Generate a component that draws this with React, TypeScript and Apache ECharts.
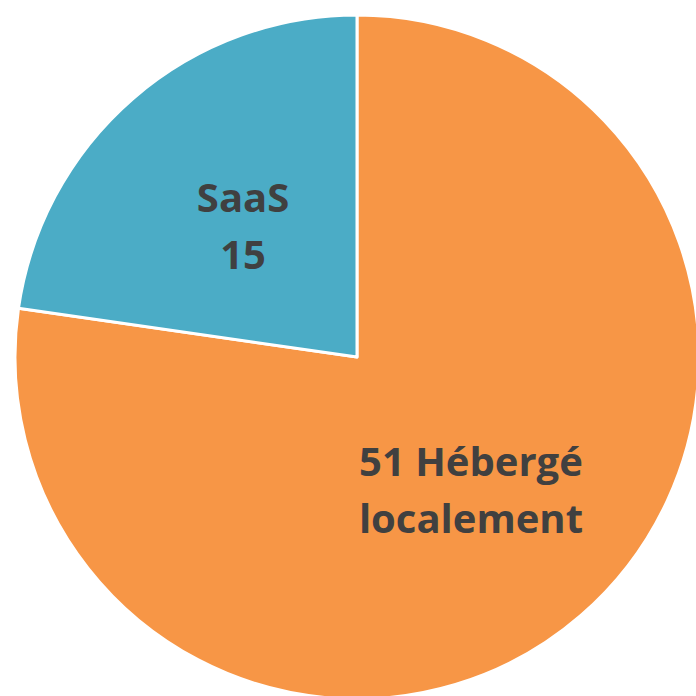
import React, { useEffect, useRef } from "react";
import * as echarts from "echarts";

const categories = ["Hébergé localement", "SaaS"];
const values = [51, 15];
const labels = ["51 Hébergé\nlocalement", "SaaS\n15"];
const colors = ["#F79646", "#4BACC6"];

export default function App() {
  const ref = useRef<HTMLDivElement>(null);
  useEffect(() => {
    if (!ref.current) return;
    const chart = echarts.init(ref.current, undefined, { renderer: "svg" });
    chart.setOption({
      animation: false,
      series: [
        {
          type: "pie",
          center: [357, 357],
          radius: [0, 342],
          startAngle: 90,
          clockwise: true,
          data: categories.map((name, i) => ({
            name,
            value: values[i],
            itemStyle: { color: colors[i] },
            label: { formatter: labels[i] },
          })),
          itemStyle: { borderColor: "#ffffff", borderWidth: 3 },
          label: {
            show: true,
            position: "inside",
            color: "#404040",
            fontFamily: "Open Sans",
            fontWeight: "bold",
            fontSize: 40,
            lineHeight: 57,
            align: "center",
          },
          labelLine: { show: false },
          emphasis: { disabled: true },
        },
      ],
    });
    return () => chart.dispose();
  }, []);
  return (
    <div
      ref={ref}
      style={{ position: "fixed", left: 0, top: 0, width: 696, height: 696, background: "#ffffff" }}
    />
  );
}
